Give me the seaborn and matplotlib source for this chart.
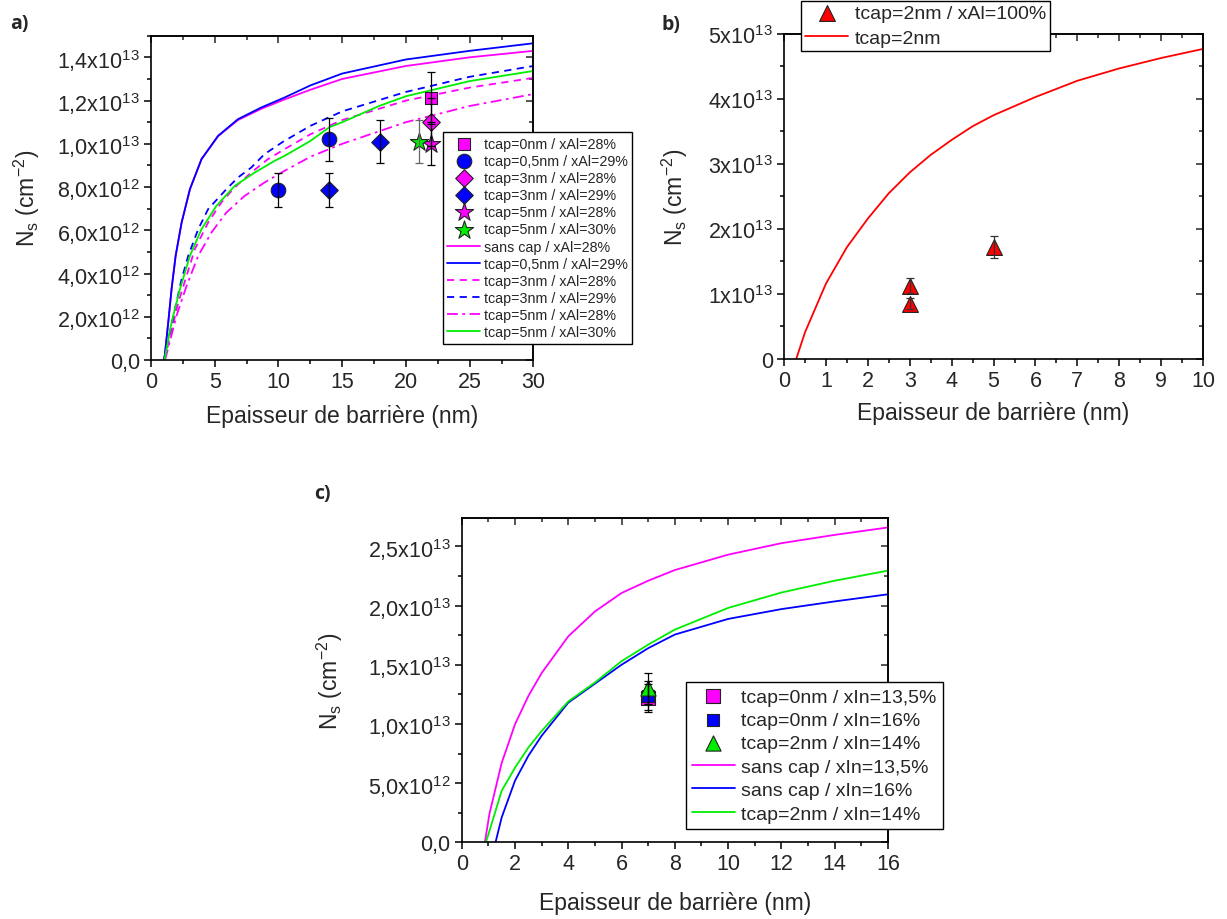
import matplotlib
matplotlib.use("Agg")
import matplotlib.pyplot as plt
import seaborn as sns
from matplotlib.ticker import MultipleLocator

# ---------------- panel a : AlGaN, Ns vs barrier thickness ----------------
# curves (x in nm, Ns in 1e12 cm-2)
a_sans_x = [1.04, 1.35, 1.61, 1.93, 2.4, 3.05, 3.96, 5.26, 6.82, 8.65, 10.47, 12.5, 15, 20, 25, 30]
a_sans_y = [0, 1.74, 3.28, 4.82, 6.36, 7.9, 9.29, 10.35, 11.1, 11.62, 12.05, 12.5, 13.0, 13.6, 14.0, 14.3]
a_05_x = [1.04, 1.35, 1.61, 1.93, 2.4, 3.05, 3.96, 5.26, 6.82, 8.65, 10.47, 12.5, 15, 20, 25, 30]
a_05_y = [0, 1.74, 3.28, 4.82, 6.36, 7.9, 9.29, 10.37, 11.14, 11.68, 12.14, 12.7, 13.25, 13.9, 14.3, 14.65]
a_3_28_x = [1.05, 2.14, 2.79, 3.44, 4.48, 5.52, 6.56, 7.86, 9.17, 10.47, 12.5, 15, 20, 25, 30]
a_3_28_y = [0, 2.66, 3.9, 5.13, 6.36, 7.29, 7.98, 8.67, 9.29, 9.75, 10.44, 11.1, 12.0, 12.6, 13.05]
a_3_29_x = [1.0, 1.88, 2.4, 2.92, 3.7, 4.48, 5.91, 6.82, 7.86, 8.9, 10.34, 12.5, 15, 20, 25, 30]
a_3_29_y = [0, 2.36, 3.74, 4.82, 6.05, 6.98, 7.9, 8.44, 8.9, 9.52, 10.09, 10.83, 11.5, 12.4, 13.1, 13.6]
a_5_28_x = [1.1, 2.0, 2.79, 3.7, 4.74, 5.91, 7.34, 8.9, 10.47, 12.5, 15, 20, 25, 30]
a_5_28_y = [0, 2.05, 3.43, 4.82, 5.9, 6.82, 7.59, 8.21, 8.75, 9.4, 10.0, 11.0, 11.75, 12.3]
a_5_30_x = [1.05, 1.61, 2.27, 3.05, 3.96, 5.13, 6.56, 8.13, 9.69, 10.47, 12.5, 14, 15, 17.9, 20, 25, 30]
a_5_30_y = [0, 1.74, 3.28, 4.82, 6.05, 7.13, 8.05, 8.67, 9.21, 9.44, 10.13, 10.77, 11.0, 11.75, 12.2, 12.9, 13.37]

# measured points (x nm, Ns 1e12, error 1e12)
a_sq_x, a_sq_y, a_sq_e = [22], [12.1], [1.2]
a_ci_x, a_ci_y, a_ci_e = [10, 14], [7.86, 10.2], [0.78, 1.0]
a_dm_x, a_dm_y, a_dm_e = [22], [11.0], [1.1]
a_db_x, a_db_y, a_db_e = [14, 18], [7.86, 10.1], [0.78, 1.0]
a_sm_x, a_sm_y, a_sm_e = [22], [10.0], [1.0]
a_sg_x, a_sg_y, a_sg_e = [21], [10.1], [1.0]

a_yticks = [0, 2, 4, 6, 8, 10, 12, 14]
a_yticklabels = ["0,0", "2,0x10$^{12}$", "4,0x10$^{12}$", "6,0x10$^{12}$", "8,0x10$^{12}$",
                 "1,0x10$^{13}$", "1,2x10$^{13}$", "1,4x10$^{13}$"]

# ---------------- panel b : AlN barrier (Ns in 1e13) ----------------
b_x = [0.29, 0.5, 1, 1.5, 2, 2.5, 3, 3.5, 4, 4.5, 5, 6, 7, 8, 9, 10]
b_y = [0, 0.41, 1.16, 1.72, 2.16, 2.55, 2.87, 3.14, 3.37, 3.58, 3.75, 4.03, 4.28, 4.47, 4.63, 4.77]
b_pts_x = [3, 3, 5]
b_pts_y = [1.13, 0.85, 1.72]
b_pts_e = [0.11, 0.085, 0.17]
b_yticks = [0, 1, 2, 3, 4, 5]
b_yticklabels = ["0", "1x10$^{13}$", "2x10$^{13}$", "3x10$^{13}$", "4x10$^{13}$", "5x10$^{13}$"]

# ---------------- panel c : InAlN barrier (Ns in 1e12) ----------------
c_mag_x = [0.87, 1.04, 1.5, 2, 2.5, 3, 4, 5, 6, 7, 8, 10, 12, 14, 16]
c_mag_y = [0, 2.4, 6.7, 9.97, 12.35, 14.3, 17.4, 19.5, 21.06, 22.1, 23.0, 24.3, 25.27, 25.97, 26.6]
c_blu_x = [1.27, 1.5, 2, 2.5, 3, 4, 5, 6, 7, 8, 10, 12, 14, 16]
c_blu_y = [0, 2.1, 5.2, 7.3, 9.0, 11.8, 13.4, 15.0, 16.4, 17.55, 18.87, 19.7, 20.35, 20.95]
c_grn_x = [0.91, 1.5, 2, 2.5, 3, 4, 5, 6, 7, 8, 10, 12, 14, 16]
c_grn_y = [0, 4.35, 6.3, 8.0, 9.4, 11.9, 13.5, 15.3, 16.7, 17.97, 19.8, 21.1, 22.1, 22.95]
c_sq_m = ([7], [12.2], [1.2])
c_sq_b = ([7], [12.4], [1.2])
c_tri = ([7], [13.0], [1.3])
c_yticks = [0, 5, 10, 15, 20, 25]
c_yticklabels = ["0,0", "5,0x10$^{12}$", "1,0x10$^{13}$", "1,5x10$^{13}$", "2,0x10$^{13}$", "2,5x10$^{13}$"]

MAG, BLU, GRN, RED = "#FF00FF", "#0000FF", "#00EE00", "#FF0000"

sns.set_theme(style="ticks")
plt.rcParams['font.family'] = ['Liberation Sans', 'DejaVu Sans']
plt.rcParams['mathtext.default'] = 'regular'
plt.rcParams['axes.linewidth'] = 1.2

fig = plt.figure(figsize=(12.27, 9.2), dpi=100)
ax_a = fig.add_axes([0.1231, 0.6076, 0.3116, 0.3525])
ax_b = fig.add_axes([0.6390, 0.6087, 0.3415, 0.3533])
ax_c = fig.add_axes([0.3763, 0.0834, 0.3474, 0.3525])


def curve(ax, x, y, color, ls, label):
    sns.lineplot(x=x, y=y, ax=ax, color=color, linestyle=ls, linewidth=1.3,
                 sort=False, errorbar=None, label=label, legend=False)
    return ax.lines[-1]


def points(ax, x, y, e, marker, size, color, label, ecolor="black"):
    sns.scatterplot(x=x, y=y, ax=ax, marker=marker, s=size, color=color,
                    edgecolor="#222222", linewidth=0.8, label=label, legend=False, zorder=3)
    h = ax.collections[-1]
    ax.errorbar(x, y, yerr=e, fmt="none", ecolor=ecolor, elinewidth=0.9,
                capsize=3, capthick=0.9, zorder=4)
    return h


def style_axis(ax, xmaj, xmin, ymaj, ymin):
    ax.xaxis.set_major_locator(MultipleLocator(xmaj))
    ax.xaxis.set_minor_locator(MultipleLocator(xmin))
    ax.yaxis.set_minor_locator(MultipleLocator(ymin))
    ax.tick_params(which="both", direction="out", top=False, right=False,
                   color="black", width=1.1, labelsize=15.5, pad=3)
    ax.tick_params(which="major", length=5)
    ax.tick_params(which="minor", length=3)
    for s in ax.spines.values():
        s.set_visible(True)
        s.set_color("black")
        s.set_linewidth(1.2)
    # mirror ticks pointing inwards on top and right (Origin style)
    top = ax.secondary_xaxis("top")
    top.xaxis.set_major_locator(MultipleLocator(xmaj))
    top.xaxis.set_minor_locator(MultipleLocator(xmin))
    top.tick_params(which="both", direction="in", labeltop=False, width=1.1)
    top.tick_params(which="major", length=5)
    top.tick_params(which="minor", length=3)
    right = ax.secondary_yaxis("right")
    right.set_yticks(ymaj)
    right.yaxis.set_minor_locator(MultipleLocator(ymin))
    right.tick_params(which="both", direction="in", labelright=False, width=1.1)
    right.tick_params(which="major", length=5)
    right.tick_params(which="minor", length=3)


def labels(ax, ylx, xly):
    ax.set_xlabel("Epaisseur de barrière (nm)", fontsize=16.5)
    ax.set_ylabel("N$_s$ (cm$^{-2}$)", fontsize=16.5)
    ax.xaxis.set_label_coords(0.5, xly)
    ax.yaxis.set_label_coords(ylx, 0.5)


# ---- panel a
lines_a = [
    curve(ax_a, a_sans_x, a_sans_y, MAG, "-", "sans cap / xAl=28%"),
    curve(ax_a, a_05_x, a_05_y, BLU, "-", "tcap=0,5nm / xAl=29%"),
    curve(ax_a, a_3_28_x, a_3_28_y, MAG, (0, (4, 3)), "tcap=3nm / xAl=28%"),
    curve(ax_a, a_3_29_x, a_3_29_y, BLU, (0, (4, 3)), "tcap=3nm / xAl=29%"),
    curve(ax_a, a_5_28_x, a_5_28_y, MAG, (0, (6, 2.5, 1.5, 2.5)), "tcap=5nm / xAl=28%"),
    curve(ax_a, a_5_30_x, a_5_30_y, GRN, "-", "tcap=5nm / xAl=30%"),
]
pts_a = [
    points(ax_a, a_sq_x, a_sq_y, a_sq_e, "s", 70, MAG, "tcap=0nm / xAl=28%"),
    points(ax_a, a_ci_x, a_ci_y, a_ci_e, "o", 110, BLU, "tcap=0,5nm / xAl=29%"),
    points(ax_a, a_dm_x, a_dm_y, a_dm_e, "D", 80, MAG, "tcap=3nm / xAl=28%"),
    points(ax_a, a_db_x, a_db_y, a_db_e, "D", 80, BLU, "tcap=3nm / xAl=29%"),
    points(ax_a, a_sm_x, a_sm_y, a_sm_e, "*", 190, MAG, "tcap=5nm / xAl=28%"),
    points(ax_a, a_sg_x, a_sg_y, a_sg_e, "*", 190, GRN, "tcap=5nm / xAl=30%", ecolor="#666666"),
]
ax_a.set_xlim(0, 30)
ax_a.set_ylim(0, 15)
ax_a.set_yticks(a_yticks)
ax_a.set_yticklabels(a_yticklabels)
style_axis(ax_a, 5, 2.5, a_yticks, 1)
labels(ax_a, -0.285, -0.135)
hs = pts_a + lines_a
leg = ax_a.legend(hs, [h.get_label() for h in hs], loc="upper left",
                  bbox_to_anchor=(0.764, 0.702), borderaxespad=0, fontsize=10.3,
                  labelspacing=0.22, handlelength=2.3, handletextpad=0.25,
                  borderpad=0.3, fancybox=False, framealpha=1, edgecolor="black")
leg.get_frame().set_linewidth(1.0)
leg.set_zorder(10)

# ---- panel b
line_b = curve(ax_b, b_x, b_y, RED, "-", "tcap=2nm")
pt_b = points(ax_b, b_pts_x, b_pts_y, b_pts_e, "^", 130, RED, "tcap=2nm / xAl=100%", ecolor="#333333")
ax_b.set_xlim(0, 10)
ax_b.set_ylim(0, 5)
ax_b.set_yticks(b_yticks)
ax_b.set_yticklabels(b_yticklabels)
style_axis(ax_b, 1, 0.5, b_yticks, 0.5)
labels(ax_b, -0.224, -0.128)
leg = ax_b.legend([pt_b, line_b], [pt_b.get_label(), line_b.get_label()], loc="upper left",
                  bbox_to_anchor=(0.041, 1.102), borderaxespad=0, fontsize=14,
                  labelspacing=0.35, handlelength=2.2, handletextpad=0.35,
                  borderpad=0.2, fancybox=False, framealpha=1, edgecolor="black")
leg.get_frame().set_linewidth(1.0)

# ---- panel c
lines_c = [
    curve(ax_c, c_mag_x, c_mag_y, MAG, "-", "sans cap / xIn=13,5%"),
    curve(ax_c, c_blu_x, c_blu_y, BLU, "-", "sans cap / xIn=16%"),
    curve(ax_c, c_grn_x, c_grn_y, GRN, "-", "tcap=2nm / xIn=14%"),
]
pts_c = [
    points(ax_c, *c_sq_m, "s", 110, MAG, "tcap=0nm / xIn=13,5%"),
    points(ax_c, *c_sq_b, "s", 70, BLU, "tcap=0nm / xIn=16%"),
    points(ax_c, *c_tri, "^", 120, GRN, "tcap=2nm / xIn=14%"),
]
ax_c.set_xlim(0, 16)
ax_c.set_ylim(0, 27.4)
ax_c.set_yticks(c_yticks)
ax_c.set_yticklabels(c_yticklabels)
style_axis(ax_c, 2, 1, c_yticks, 2.5)
labels(ax_c, -0.274, -0.15)
hs = pts_c + lines_c
leg = ax_c.legend(hs, [h.get_label() for h in hs], loc="upper left",
                  bbox_to_anchor=(0.526, 0.494), borderaxespad=0, fontsize=14,
                  labelspacing=0.3, handlelength=2.2, handletextpad=0.35,
                  borderpad=0.3, fancybox=False, framealpha=1, edgecolor="black")
leg.get_frame().set_linewidth(1.0)
leg.set_zorder(10)

# panel letters
for txt, x, y in [("a)", 0.008, 0.974), ("b)", 0.539, 0.973), ("c)", 0.256, 0.463)]:
    fig.text(x, y, txt, fontsize=14, fontweight="bold", family=["Open Sans", "DejaVu Sans"],
             va="center")

fig.savefig("out.png", dpi=100)
